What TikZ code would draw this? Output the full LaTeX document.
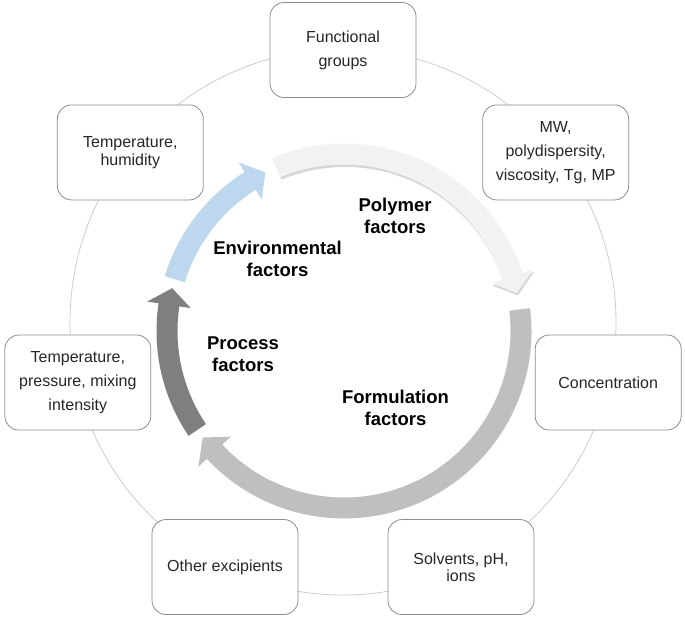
\documentclass[tikz,border=0pt]{standalone}
\usepackage{fontspec}
\setmainfont{Liberation Sans}
\usepackage{tikz}
\usetikzlibrary{positioning,calc,shadows}

\definecolor{polycol}{HTML}{F2F2F2}
\definecolor{formcol}{HTML}{BFBFBF}
\definecolor{proccol}{HTML}{7F7F7F}
\definecolor{envcol}{HTML}{BDD7EE}

% curved block arrow: [extra], colour, tail angle, head base angle, tip angle
\newcommand{\cyclearrow}[5][]{%
  \fill[#2,#1] (#3:187.5) arc[start angle=#3, end angle=#4, radius=187.5]
    -- (#4:199) -- (#5:177) -- (#4:155) -- (#4:166.5)
    arc[start angle=#4, end angle=#3, radius=166.5] -- cycle;}

\begin{document}
\begin{tikzpicture}[x=1pt,y=1pt,
    factorbox/.style={draw=black!45, fill=white, line width=0.8pt, rounded corners=14pt,
      minimum width=146pt, minimum height=95pt, align=center, text=black!85,
      font=\fontsize{16}{24}\selectfont},
    factorlabel/.style={align=center, text=black,
      font=\fontsize{18.5}{22}\selectfont\bfseries},
    ringline/.style={draw=black!20, line width=0.8pt}]
    \useasboundingbox (0,0) rectangle (685,621);

    % Outer ring
    \coordinate (ring) at (343,299);
    \draw[ringline] (ring) circle (273);

    % Boxes round the ring
    \node[factorbox] (func) at ($(ring)+(90:272)$) {Functional\\groups};
    \node[factorbox] (mw) at ($(ring)+(38.57:272)$) {MW,\\polydispersity,\\viscosity, Tg, MP};
    \node[factorbox] (conc) at ($(ring)+(-12.86:272)$) {Concentration};
    \node[factorbox, font=\fontsize{16}{17.5}\selectfont] (solv) at ($(ring)+(-64.29:272)$) {Solvents, pH,\\ions};
    \node[factorbox] (excip) at ($(ring)+(-115.71:272)$) {Other excipients};
    \node[factorbox] (press) at ($(ring)+(-167.14:272)$) {Temperature,\\pressure, mixing\\intensity};
    \node[factorbox, font=\fontsize{16}{18.5}\selectfont] (humid) at ($(ring)+(141.43:272)$) {Temperature,\\humidity};

    % Cycle arrows
    \begin{scope}[shift={(344,290)}]
        \cyclearrow[drop shadow={fill=black!45, opacity=0.35, shadow xshift=1pt, shadow yshift=-2.5pt}]{polycol}{112.4}{18}{12.4}
        \cyclearrow{formcol}{7}{-137}{-143}
        \cyclearrow{proccol}{214}{171.5}{166}
        \cyclearrow{envcol}{163}{122}{116.4}
    \end{scope}

    % Cycle labels
    \node[factorlabel] (poly) at (395,405) {Polymer\\factors};
    \node[factorlabel] (env) at (277.5,362) {Environmental\\factors};
    \node[factorlabel] (proc) at (243,267) {Process\\factors};
    \node[factorlabel] (form) at (395.5,213) {Formulation\\factors};
\end{tikzpicture}
\end{document}
